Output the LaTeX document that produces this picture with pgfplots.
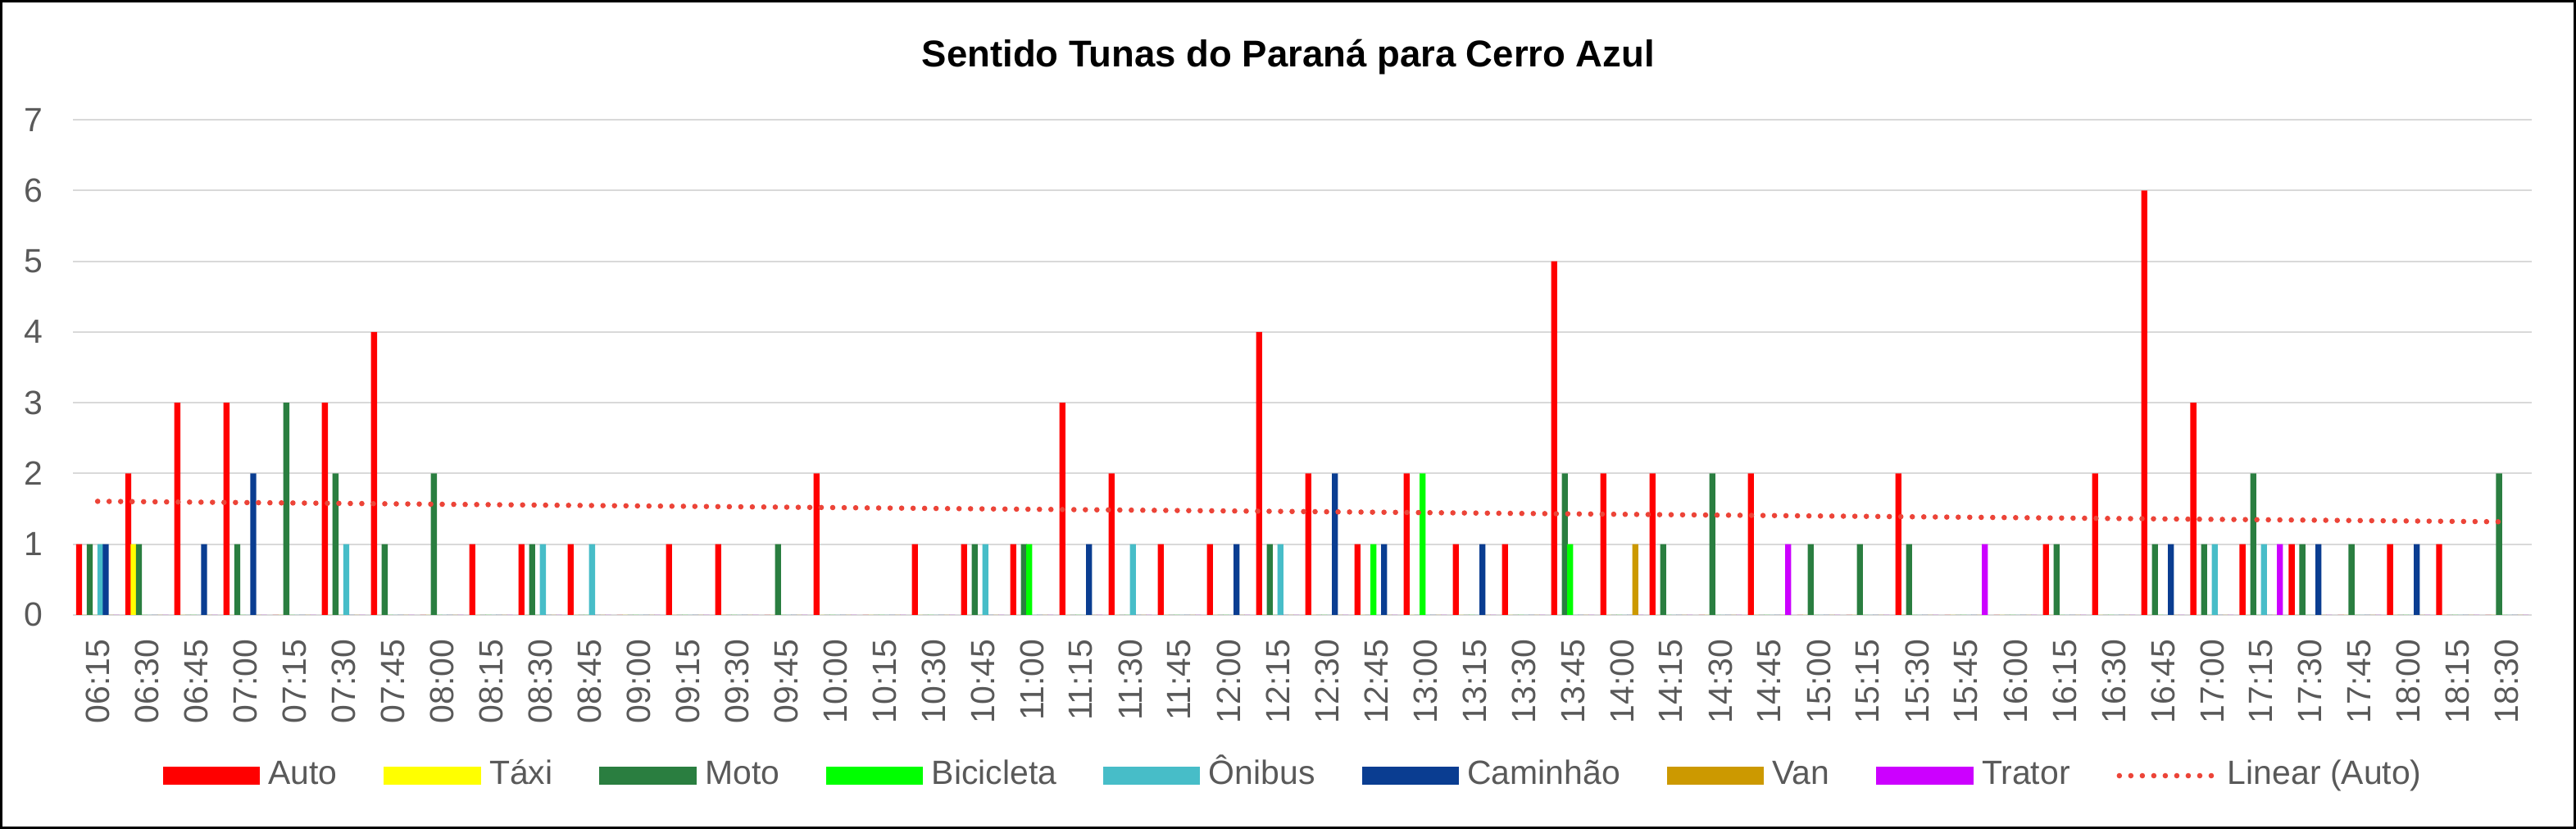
\documentclass[border=0pt]{standalone}
\usepackage{fontspec}
\setmainfont{Liberation Sans}
\usepackage{pgfplots}
\usepackage{pgfplotstable}
\pgfplotsset{compat=1.18}
\definecolor{cAuto}{RGB}{255,0,0}
\definecolor{cTaxi}{RGB}{255,255,0}
\definecolor{cMoto}{RGB}{42,126,64}
\definecolor{cBic}{RGB}{0,255,0}
\definecolor{cOni}{RGB}{71,189,200}
\definecolor{cCam}{RGB}{10,61,145}
\definecolor{cVan}{RGB}{204,153,0}
\definecolor{cTra}{RGB}{204,0,255}
\definecolor{cTrend}{RGB}{236,68,56}
\definecolor{gridgray}{RGB}{217,217,217}
\definecolor{tickgray}{RGB}{89,89,89}
\pgfplotsset{
  barleg/.style={legend image code/.code={\fill[##1] (0pt,-2.5pt) rectangle (26pt,2.5pt);}},
  trendleg/.style={legend image code/.code={\draw[##1] (0pt,0pt) -- (26pt,0pt);}}
}
\pgfplotstableread{
x Auto Taxi Moto Bic Oni Cam Van Tra
0 1 0 1 0 1 1 0 0
1 2 1 1 0 0 0 0 0
2 3 0 0 0 0 1 0 0
3 3 0 1 0 0 2 0 0
4 0 0 3 0 0 0 0 0
5 3 0 2 0 1 0 0 0
6 4 0 1 0 0 0 0 0
7 0 0 2 0 0 0 0 0
8 1 0 0 0 0 0 0 0
9 1 0 1 0 1 0 0 0
10 1 0 0 0 1 0 0 0
11 0 0 0 0 0 0 0 0
12 1 0 0 0 0 0 0 0
13 1 0 0 0 0 0 0 0
14 0 0 1 0 0 0 0 0
15 2 0 0 0 0 0 0 0
16 0 0 0 0 0 0 0 0
17 1 0 0 0 0 0 0 0
18 1 0 1 0 1 0 0 0
19 1 0 1 1 0 0 0 0
20 3 0 0 0 0 1 0 0
21 2 0 0 0 1 0 0 0
22 1 0 0 0 0 0 0 0
23 1 0 0 0 0 1 0 0
24 4 0 1 0 1 0 0 0
25 2 0 0 0 0 2 0 0
26 1 0 0 1 0 1 0 0
27 2 0 0 2 0 0 0 0
28 1 0 0 0 0 1 0 0
29 1 0 0 0 0 0 0 0
30 5 0 2 1 0 0 0 0
31 2 0 0 0 0 0 1 0
32 2 0 1 0 0 0 0 0
33 0 0 2 0 0 0 0 0
34 2 0 0 0 0 0 0 1
35 0 0 1 0 0 0 0 0
36 0 0 1 0 0 0 0 0
37 2 0 1 0 0 0 0 0
38 0 0 0 0 0 0 0 1
39 0 0 0 0 0 0 0 0
40 1 0 1 0 0 0 0 0
41 2 0 0 0 0 0 0 0
42 6 0 1 0 0 1 0 0
43 3 0 1 0 1 0 0 0
44 1 0 2 0 1 0 0 1
45 1 0 1 0 0 1 0 0
46 0 0 1 0 0 0 0 0
47 1 0 0 0 0 1 0 0
48 1 0 0 0 0 0 0 0
49 0 0 2 0 0 0 0 0
}\datatable
\begin{document}
\begin{tikzpicture}
\useasboundingbox (0,0) rectangle (690.8pt,222.2pt);
\draw[line width=0.6pt, black] (0.3pt,0.3pt) rectangle (690.5pt,221.9pt);
\node[anchor=base, font=\fontsize{10}{12}\selectfont\bfseries, text=black] at (345.5pt,204.2pt) {Sentido Tunas do Paraná para Cerro Azul};
\begin{axis}[
  at={(19.6pt,57.4pt)}, anchor=south west,
  scale only axis, width=659.3pt, height=132.7pt,
  xmin=-0.5, xmax=49.5, ymin=0, ymax=7,
  axis line style={draw=none},
  major tick length=0pt,
  ytick={0,1,...,7},
  xtick={0,1,...,49},
  xticklabels={06:15,06:30,06:45,07:00,07:15,07:30,07:45,08:00,08:15,08:30,08:45,09:00,09:15,09:30,09:45,10:00,10:15,10:30,10:45,11:00,11:15,11:30,11:45,12:00,12:15,12:30,12:45,13:00,13:15,13:30,13:45,14:00,14:15,14:30,14:45,15:00,15:15,15:30,15:45,16:00,16:15,16:30,16:45,17:00,17:15,17:30,17:45,18:00,18:15,18:30},
  ymajorgrids, grid style={line width=0.45pt, gridgray},
  tick label style={font=\fontsize{9}{10}\selectfont, text=tickgray},
  /pgf/number format/assume math mode=true,
  xticklabel style={rotate=90, anchor=east},
  xticklabel shift=3pt,
  yticklabel shift=4.5pt,
  legend columns=9,
  legend style={at={(axis description cs:0.497,-0.325)}, anchor=center, draw=none, fill=none,
    font=\fontsize{9}{10}\selectfont, text=tickgray,
    column sep=0pt,
    /tikz/every odd column/.append style={column sep=0.8pt},
    /tikz/every even column/.append style={column sep=11pt},
    nodes={inner sep=1.5pt, text height=6.6pt, text depth=1.9pt}},
]
\addplot[ybar, bar width=1.6pt, bar shift=-5.005pt, fill=cAuto, draw=none, barleg] table[x=x, y=Auto] {\datatable};
\addlegendentry{Auto}
\addplot[ybar, bar width=1.6pt, bar shift=-3.575pt, fill=cTaxi, draw=none, barleg] table[x=x, y=Taxi] {\datatable};
\addlegendentry{Táxi}
\addplot[ybar, bar width=1.6pt, bar shift=-2.145pt, fill=cMoto, draw=none, barleg] table[x=x, y=Moto] {\datatable};
\addlegendentry{Moto}
\addplot[ybar, bar width=1.6pt, bar shift=-0.715pt, fill=cBic, draw=none, barleg] table[x=x, y=Bic] {\datatable};
\addlegendentry{Bicicleta}
\addplot[ybar, bar width=1.6pt, bar shift=0.715pt, fill=cOni, draw=none, barleg] table[x=x, y=Oni] {\datatable};
\addlegendentry{Ônibus}
\addplot[ybar, bar width=1.6pt, bar shift=2.145pt, fill=cCam, draw=none, barleg] table[x=x, y=Cam] {\datatable};
\addlegendentry{Caminhão}
\addplot[ybar, bar width=1.6pt, bar shift=3.575pt, fill=cVan, draw=none, barleg] table[x=x, y=Van] {\datatable};
\addlegendentry{Van}
\addplot[ybar, bar width=1.6pt, bar shift=5.005pt, fill=cTra, draw=none, barleg] table[x=x, y=Tra] {\datatable};
\addlegendentry{Trator}
\addplot[sharp plot, cTrend, line width=1.45pt, line cap=round, dash pattern=on 0pt off 3.08pt, mark=none, trendleg] coordinates {(0,1.605) (49,1.315)};
\addlegendentry{Linear (Auto)}
\end{axis}
\end{tikzpicture}
\end{document}
